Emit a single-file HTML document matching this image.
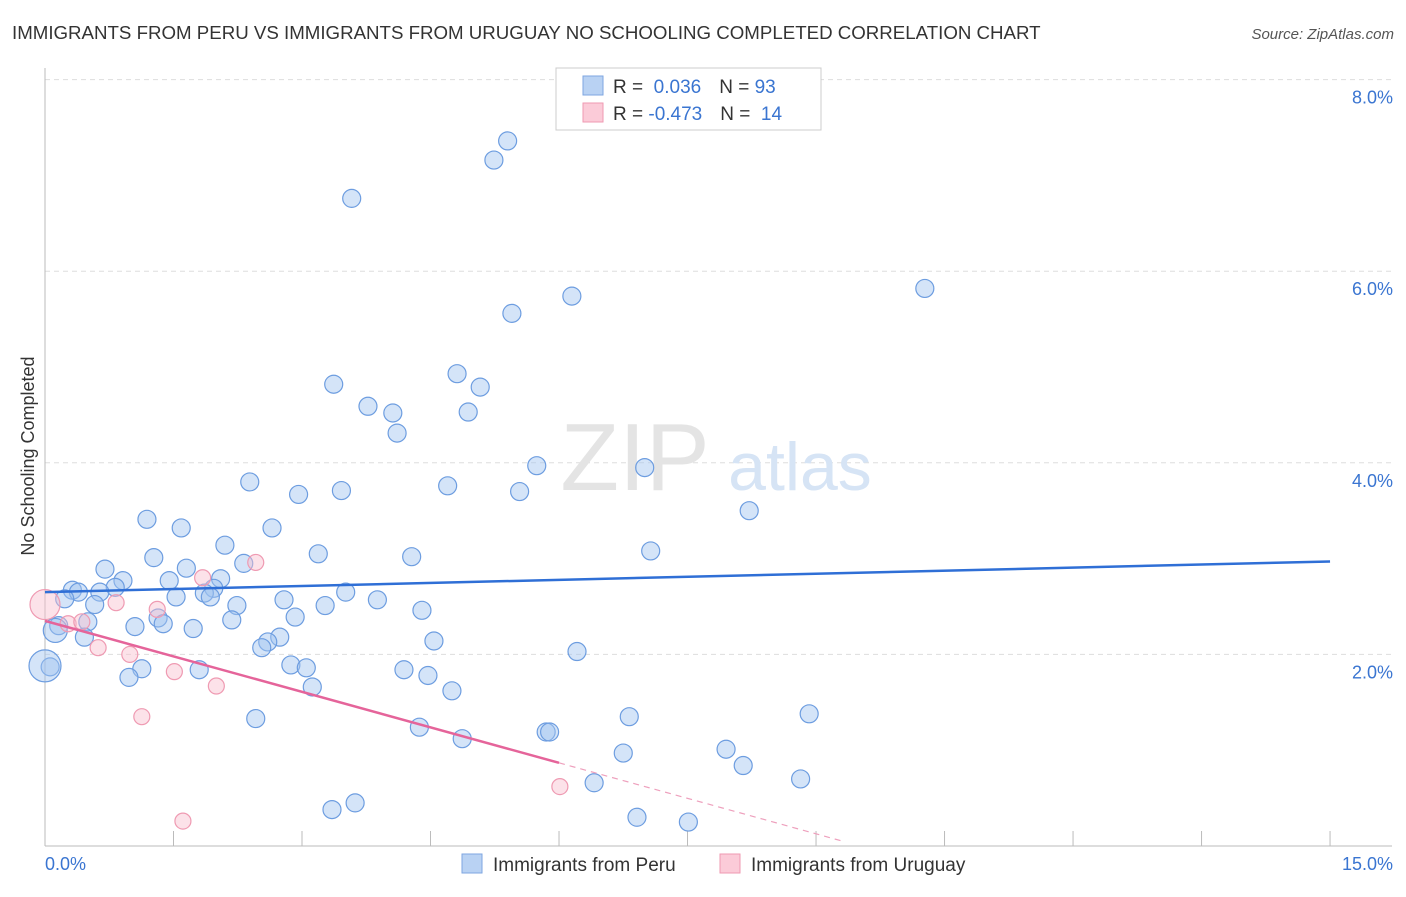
<!DOCTYPE html>
<html><head><meta charset="utf-8"><style>
body{margin:0;background:#fff;font-family:"Liberation Sans",sans-serif}
svg text{font-family:"Liberation Sans",sans-serif}
</style></head><body>
<svg id="chart" width="1406" height="892" xmlns="http://www.w3.org/2000/svg">
<text x="12" y="39" font-size="18.7" fill="#333">IMMIGRANTS FROM PERU VS IMMIGRANTS FROM URUGUAY NO SCHOOLING COMPLETED CORRELATION CHART</text>
<text x="1394" y="39" font-size="15" fill="#555" font-style="italic" text-anchor="end">Source: ZipAtlas.com</text>
<text transform="translate(34,456) rotate(-90)" font-size="18" fill="#333" text-anchor="middle">No Schooling Completed</text>
<g id="grid"></g>
<text x="635" y="490" font-size="96" fill="#e4e4e4" font-family="Liberation Serif" text-anchor="middle">ZIP</text>
<text x="800" y="490" font-size="68" fill="#d6e4f5" text-anchor="middle">atlas</text>
<g id="marks"></g>
<g>
<rect x="556" y="68" width="265" height="62" fill="#fff" stroke="#ccc"/>
<rect x="583" y="76" width="20" height="19" fill="#b9d2f3" stroke="#7ea6e0"/>
<rect x="583" y="103" width="20" height="19" fill="#fbcbd8" stroke="#ef9ab2"/>
<text x="613" y="93" font-size="19" fill="#333">R = <tspan fill="#3a75d1">&#160;0.036</tspan><tspan dx="18">N = </tspan><tspan fill="#3a75d1">93</tspan></text>
<text x="613" y="120" font-size="19" fill="#333">R = <tspan fill="#3a75d1">-0.473</tspan><tspan dx="18">N = </tspan><tspan fill="#3a75d1">&#160;14</tspan></text>
</g>
<g>
<rect x="462" y="854" width="20" height="19" fill="#b9d2f3" stroke="#7ea6e0"/>
<text x="493" y="871" font-size="19" fill="#333">Immigrants from Peru</text>
<rect x="720" y="854" width="20" height="19" fill="#fbcbd8" stroke="#ef9ab2"/>
<text x="751" y="871" font-size="19" fill="#333">Immigrants from Uruguay</text>
</g>
</svg>
<script>
const peruX=[5.40,5.24,3.58,6.15,5.45,10.27,3.37,4.81,5.08,3.77,4.06,4.94,4.11,5.74,7.00,4.70,5.54,2.39,2.96,3.46,8.22,1.19,1.59,2.65,2.10,7.07,1.27,3.19,4.28,0.70,1.65,2.32,0.91,1.45,2.05,0.32,0.39,0.82,0.64,1.97,1.86,1.93,1.53,3.51,2.79,3.88,0.58,2.24,3.27,0.23,4.40,2.92,2.18,1.32,1.38,0.50,1.05,1.73,0.16,0.46,2.74,2.60,2.53,4.54,6.21,0.12,0.06,1.13,1.80,0.98,2.87,3.05,4.19,4.47,3.12,4.75,2.46,6.82,8.92,4.37,5.85,5.89,4.87,7.95,6.75,8.15,8.82,6.41,3.62,3.35,6.91,7.51,0.0];
const peruY=[7.36,7.16,6.76,5.74,5.56,5.82,4.82,4.93,4.79,4.59,4.52,4.53,4.31,3.97,3.95,3.76,3.70,3.80,3.67,3.71,3.50,3.41,3.32,3.32,3.14,3.08,3.01,3.05,3.02,2.89,2.90,2.95,2.77,2.77,2.79,2.67,2.65,2.70,2.65,2.69,2.64,2.60,2.60,2.65,2.57,2.57,2.52,2.51,2.51,2.58,2.46,2.39,2.36,2.38,2.32,2.34,2.29,2.27,2.30,2.18,2.18,2.13,2.07,2.14,2.03,2.25,1.87,1.85,1.84,1.76,1.89,1.86,1.84,1.78,1.66,1.62,1.33,1.35,1.38,1.24,1.19,1.19,1.12,1.01,0.97,0.84,0.70,0.66,0.45,0.38,0.30,0.25,1.88];
const uruX=[0.0,0.62,0.27,0.43,0.83,0.99,1.31,1.84,2.46,1.51,2.00,1.13,6.01,1.61];
const uruY=[2.52,2.07,2.32,2.34,2.54,2.00,2.47,2.80,2.96,1.82,1.67,1.35,0.62,0.26];
const peruTrend=[2.65,2.97];
const uruTrend=[2.35,-0.247];
const uruSolidEnd=6.0, uruDashEnd=9.3;
const xTicks=[0,1.5,3,4.5,6,7.5,9,10.5,12,13.5,15];
const yTicks=[2,4,6,8];
const yLabels=["2.0%","4.0%","6.0%","8.0%"];
const X=v=>45+v*85.67, Y=v=>846-v*95.8;
const NS="http://www.w3.org/2000/svg";
function mk(tag,attrs,parent){const e=document.createElementNS(NS,tag);for(const k in attrs)e.setAttribute(k,attrs[k]);parent.appendChild(e);return e;}
const grid=document.getElementById('grid'), marks=document.getElementById('marks');
yTicks.forEach((t,i)=>{
 const l=mk('line',{x1:45,x2:1392,y1:Y(t),y2:Y(t),stroke:'#ddd','stroke-dasharray':'5,4'},grid);
 
 
 const tx=mk('text',{x:1393,y:Y(t)+24,'font-size':18,fill:'#3a75d1','text-anchor':'end'},grid);
 tx.textContent=yLabels[i];
 
 
});
const ax=mk('line',{x1:45,x2:1392,y1:846,y2:846,stroke:'#bbb'},grid);


const ay=mk('line',{x1:45,x2:45,y1:68,y2:846,stroke:'#bbb'},grid);


xTicks.forEach(t=>{const l=mk('line',{x1:X(t),x2:X(t),y1:831,y2:846,stroke:'#bbb'},grid);
 
 });
const t0=mk('text',{x:45,y:870,'font-size':18,fill:'#3a75d1'},grid);t0.textContent='0.0%';


const t1=mk('text',{x:1393,y:870,'font-size':18,fill:'#3a75d1','text-anchor':'end'},grid);t1.textContent='15.0%';


peruX.forEach((x,i)=>{
 let r=9; if(i===peruX.length-1) r=16; if(i===65) r=12;
 const c=mk('circle',{cx:X(x),cy:Y(peruY[i]),r:r,fill:'rgba(160,196,240,0.45)',stroke:'#6d9de0','stroke-width':1.2},marks);
 
 
});
uruX.forEach((x,i)=>{
 const r=i===0?15:8;
 const c=mk('circle',{cx:X(x),cy:Y(uruY[i]),r:r,fill:'rgba(248,190,206,0.45)',stroke:'#ef9ab2','stroke-width':1.2},marks);
 
 
});
const pl=mk('line',{x1:X(0),y1:Y(peruTrend[0]),x2:X(15),y2:Y(peruTrend[1]),stroke:'#2f6fd6','stroke-width':2.5},marks);


const ul=mk('line',{x1:X(0),y1:Y(uruTrend[0]),x2:X(uruSolidEnd),y2:Y(uruTrend[0]+uruTrend[1]*uruSolidEnd),stroke:'#e5649a','stroke-width':2.5},marks);


const ud=mk('line',{x1:X(uruSolidEnd),y1:Y(uruTrend[0]+uruTrend[1]*uruSolidEnd),x2:X(uruDashEnd),y2:Y(uruTrend[0]+uruTrend[1]*uruDashEnd),stroke:'#eea0bd','stroke-width':1.2,'stroke-dasharray':'6,5'},marks);


</script>
</body></html>
